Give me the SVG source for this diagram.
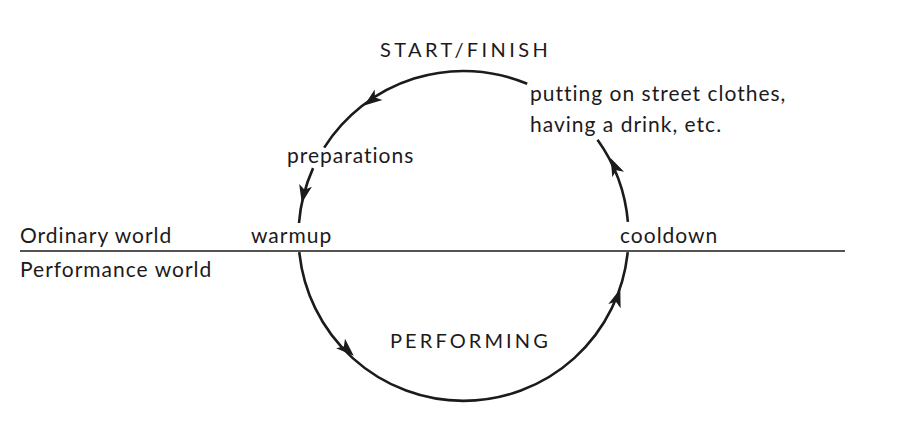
<svg xmlns="http://www.w3.org/2000/svg" xmlns:xlink="http://www.w3.org/1999/xlink" width="918" height="448" viewBox="0 0 918 448">
<style>
text{font-family:Lato,"Open Sans","Liberation Sans",sans-serif;fill:#1c1a1b;font-size:21px;letter-spacing:1px}
.cap{letter-spacing:3.4px;font-size:20px}
.perf{letter-spacing:3.1px}
.arc{fill:none;stroke:#1c1a1b;stroke-width:2.6}
.rule{stroke:#1c1a1b;stroke-width:1.6}
.ah{fill:#1c1a1b}
</style>
<defs>
<path id="ah" class="ah" d="M1,0 L-17,-6.5 L-12.5,0 L-17,6.5 Z"/>
</defs>
<rect width="918" height="448" fill="#ffffff"/>
<g id="connectors">
<line class="rule" x1="20" y1="251" x2="845" y2="251"/>
<path class="arc" d="M299.3,252.1 A165,165 0 0 0 627.7,252.1"/>
<path class="arc" d="M627.9,221.9 A165,165 0 0 0 597.5,139.7"/>
<path class="arc" d="M527.2,83.8 A165,165 0 0 0 324.2,147.6"/>
<path class="arc" d="M313.1,168.1 A165,165 0 0 0 299.0,223.0"/>
<use xlink:href="#ah" transform="translate(365,105) rotate(143)"/>
<use xlink:href="#ah" transform="translate(302,202) rotate(102)"/>
<use xlink:href="#ah" transform="translate(353,355) rotate(43)"/>
<use xlink:href="#ah" transform="translate(620,290) rotate(-71)"/>
<use xlink:href="#ah" transform="translate(611,159) rotate(-115)"/>
</g>
<g id="start-finish"><text class="cap" x="380" y="57">START/FINISH</text></g>
<g id="street-clothes"><text x="530" y="101">putting on street clothes,</text><text x="530" y="132">having a drink, etc.</text></g>
<g id="preparations"><text x="287" y="163">preparations</text></g>
<g id="warmup"><text x="251" y="243">warmup</text></g>
<g id="cooldown"><text x="620" y="243">cooldown</text></g>
<g id="ordinary-world"><text x="20" y="243">Ordinary world</text></g>
<g id="performance-world"><text x="20" y="277">Performance world</text></g>
<g id="performing"><text class="cap perf" x="390" y="348">PERFORMING</text></g>
</svg>
